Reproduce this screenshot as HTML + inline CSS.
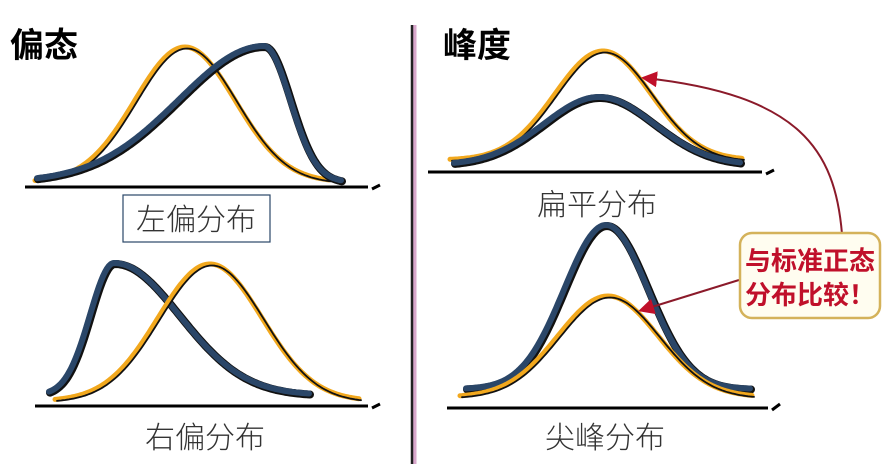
<!DOCTYPE html>
<html><head><meta charset="utf-8">
<style>
html,body{margin:0;padding:0;background:#fff;}
svg{display:block;}
text{font-family:"Liberation Sans","Noto Sans CJK SC",sans-serif;}
.lbl{font-weight:300;}
</style></head>
<body>
<svg id="c" width="896" height="464" viewBox="0 0 896 464">
  <rect width="896" height="464" fill="#fff"/>
  <g id="curves"></g>
  <g stroke="#000" stroke-width="3">
    <line x1="25" y1="187" x2="368" y2="187"/>
    <line x1="372" y1="189" x2="380" y2="185"/>
    <line x1="35" y1="406" x2="368" y2="406"/>
    <line x1="372" y1="408" x2="380" y2="404"/>
    <line x1="428" y1="172" x2="762" y2="172"/>
    <line x1="766" y1="174" x2="774" y2="170"/>
    <line x1="447" y1="408" x2="768" y2="408"/>
    <line x1="772" y1="410" x2="780" y2="404"/>
  </g>
  <line x1="414" y1="25" x2="414" y2="464" stroke="#d9a8cc" stroke-width="5"/>
  <line x1="412" y1="25" x2="412" y2="464" stroke="#222" stroke-width="2.5"/>
  <text x="10" y="57" font-size="34" font-weight="bold" fill="#000">偏态</text>
  <text x="443" y="57" font-size="34" font-weight="bold" fill="#000">峰度</text>
  <rect x="123" y="195" width="147" height="47" fill="#fff" stroke="#2a4668" stroke-width="1.2"/>
  <text class="lbl" x="196" y="230" font-size="30" fill="#333" text-anchor="middle">左偏分布</text>
  <text class="lbl" x="205" y="448" font-size="30" fill="#333" text-anchor="middle">右偏分布</text>
  <text class="lbl" x="597" y="215" font-size="30" fill="#333" text-anchor="middle">扁平分布</text>
  <text class="lbl" x="605" y="448" font-size="30" fill="#333" text-anchor="middle">尖峰分布</text>
  <defs>
    <marker id="ah" markerWidth="8" markerHeight="8" refX="6" refY="4" orient="auto">
      <path d="M0,0 L8,4 L0,8 Z" fill="#c0102a"/>
    </marker>
  </defs>
  <path d="M842,234 C835,150 800,95 645,78" fill="none" stroke="#8b1a2a" stroke-width="2" marker-end="url(#ah)"/>
  <path d="M739,280 L642,310" fill="none" stroke="#8b1a2a" stroke-width="2" marker-end="url(#ah)"/>
  <rect x="740" y="233" width="140" height="85" rx="12" fill="#fffdf0" stroke="#d4b25a" stroke-width="2.5"/>
  <text x="810" y="270" font-size="26" font-weight="bold" fill="#c0102a" text-anchor="middle">与标准正态</text>
  <text x="810" y="304" font-size="26" font-weight="bold" fill="#c0102a" text-anchor="middle">分布比较！</text>
</svg>
<script>
// curve parameters: start x, end x, peak x, peak y, baseline y, left spread, right spread
const curveNames = ['left-skew-normal','left-skew-skewed','right-skew-skewed','right-skew-normal','platy-normal','platy-flat','lepto-peaked','lepto-normal'];
const startX  = [35, 38, 50, 55, 450, 455, 467, 460];
const endX    = [330, 342, 310, 360, 742, 742, 752, 752];
const peakX   = [185, 265, 115, 210, 603, 600, 607, 608];
const peakY   = [47, 47, 264, 264, 51, 98, 226, 296];
const baseY   = [182, 183, 396, 401, 160, 166, 390, 397];
const spreadL = [50, 85, 24, 52, 48, 55, 42, 50];
const spreadR = [50, 26, 65, 52, 48, 55, 42, 50];
const colors  = ['orange','blue','blue','orange','orange','blue','blue','orange'];

const g = document.getElementById('curves');
const NS = 'http://www.w3.org/2000/svg';
function pathFor(i, dx, dy){
  let d = '';
  for (let x = startX[i]; x <= endX[i]; x += 2){
    const s = x < peakX[i] ? spreadL[i] : spreadR[i];
    const t = (x - peakX[i]) / s;
    const y = baseY[i] - (baseY[i] - peakY[i]) * Math.exp(-0.5 * t * t);
    d += (d ? 'L' : 'M') + (x + dx).toFixed(1) + ',' + (y + dy).toFixed(1);
  }
  return d;
}
function add(d, stroke, w, name){
  const p = document.createElementNS(NS, 'path');
  p.setAttribute('d', d);
  p.setAttribute('fill', 'none');
  p.setAttribute('stroke', stroke);
  p.setAttribute('stroke-width', w);
  p.setAttribute('stroke-linecap', 'round');
  p.setAttribute('stroke-linejoin', 'round');
  
  
  g.appendChild(p);
}
for (let i = 0; i < curveNames.length; i++){
  if (colors[i] === 'orange'){
    add(pathFor(i, 0, 0), '#f2a81d', 5, 'curve-' + curveNames[i]);
    add(pathFor(i, 2, 1.5), '#111', 1.8, 'curve-edge-' + curveNames[i]);
  } else {
    add(pathFor(i, 0, 0), '#111', 8, 'curve-edge-' + curveNames[i]);
    add(pathFor(i, -1, -1), '#2a4668', 6, 'curve-' + curveNames[i]);
  }
}
</script>
</body></html>
